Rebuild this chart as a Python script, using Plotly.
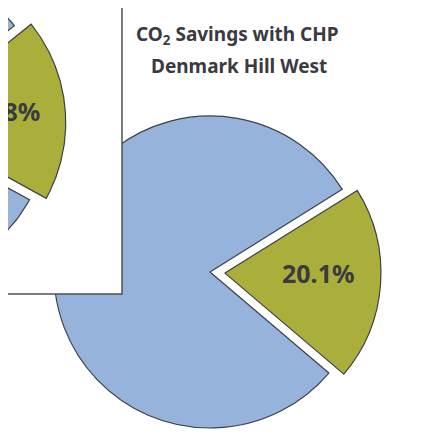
import numpy as np
import plotly.graph_objects as go

# ---------------- data ----------------
main_labels = ["CO₂ saved with CHP", "Remaining CO₂"]
main_values = [20.1, 79.9]

# second chart, only partly visible in the overlapping window (top-left)
inner_labels = ["CO₂ saved with CHP", "Remaining CO₂"]
inner_values = [18.8, 81.2]

title_line1 = "CO<sub>2</sub> Savings with CHP"
title_line2 = "Denmark Hill West"

# ---------------- style ----------------
WIN_W, WIN_H = 422, 443      # browser window
OFF = 8                      # default page margin of the html body
FW, FH = WIN_W - OFF, WIN_H - OFF
BLUE = "#95B3DB"
GREEN = "#A9AF3A"
EDGE = "#3F3F46"
TEXT = "#3A3A40"
PAGE = "#F7F7D8"
FONT = "Noto Sans"


def px(x):   # window pixel -> paper x
    return (x - OFF) / FW


def py(y):   # window pixel -> paper y
    return 1 - (y - OFF) / FH


fig = go.Figure()

# ---------------- inner (partial) pie, centred off-canvas ----------------
in_cx, in_cy, in_r, in_pull, in_rot = -108, 124, 157, 0.107, 51.2
tot = sum(inner_values)
start = in_rot
inner_colors = [GREEN, BLUE]
inner_pulls = [in_pull, 0.0]
for lab, v, col, p in zip(inner_labels, inner_values, inner_colors, inner_pulls):
    span = 360.0 * v / tot
    th = np.radians(np.linspace(start, start + span, 200))
    mid = np.radians(start + span / 2)
    ox = in_cx + p * in_r * np.sin(mid)
    oy = in_cy - p * in_r * np.cos(mid)
    xs = np.concatenate([[ox], ox + in_r * np.sin(th), [ox]])
    ys = np.concatenate([[oy], oy - in_r * np.cos(th), [oy]])
    fig.add_trace(go.Scatter(x=xs, y=ys, mode="lines", fill="toself", fillcolor=col,
                             line=dict(color=EDGE, width=1.2), hoverinfo="skip",
                             showlegend=False, name=lab))
    if p > 0:
        fig.add_trace(go.Scatter(
            x=[ox + 0.61 * in_r * np.sin(mid)], y=[oy - 0.61 * in_r * np.cos(mid)],
            mode="text", text=[f"{100 * v / tot:.1f}%"], textposition="middle center",
            textfont=dict(family=FONT, size=25, color=TEXT, weight="bold"),
            hoverinfo="skip", showlegend=False))
    start += span

# ---------------- main pie ----------------
main_cx, main_cy, main_r, main_pull = 210, 272, 156, 0.096
half = main_r * (1 + main_pull)
cxf, cyf = main_cx - OFF, main_cy - OFF
fig.add_trace(go.Pie(
    labels=main_labels, values=main_values, sort=False,
    direction="clockwise", rotation=58, pull=[main_pull, 0],
    marker=dict(colors=[GREEN, BLUE], line=dict(color=EDGE, width=1.2)),
    textinfo="none",
    domain=dict(x=[(cxf - half - 20) / FW, (cxf + half + 20) / FW],
                y=[max(0, (FH - cyf - half) / FH), (FH - cyf + half) / FH]),
    showlegend=False, hoverinfo="label+percent"))

main_pct = 100 * main_values[0] / sum(main_values)

# ---------------- frame / overlapping window ----------------
shapes = [
    dict(type="rect", x0=122, x1=WIN_W + 2, y0=-2, y1=7, fillcolor=PAGE, line_width=0, layer="below"),
    dict(type="rect", x0=-2, x1=7, y0=294, y1=WIN_H + 2, fillcolor=PAGE, line_width=0, layer="below"),
    dict(type="line", x0=122, x1=WIN_W + 2, y0=7, y1=7, line=dict(color="#4A4A4A", width=1.3), layer="below"),
    dict(type="line", x0=7, x1=7, y0=294, y1=WIN_H + 2, line=dict(color="#4A4A4A", width=1.3), layer="below"),
    # white window covering the main pie (notched where only the partial pie lies)
    dict(type="path", path="M 76,-2 L 122,-2 L 122,294 L -2,294 L -2,262 L 50,262 L 50,212 L 76,180 Z",
         fillcolor="white", line_width=0, layer="above"),
    dict(type="path", path="M 122,-2 L 122,294 L -2,294",
         line=dict(color="#505050", width=1.5), layer="above"),
]

fig.update_layout(
    width=FW, height=FH, autosize=False,
    margin=dict(l=0, r=0, t=0, b=0),
    paper_bgcolor="white", plot_bgcolor="rgba(0,0,0,0)",
    xaxis=dict(range=[OFF, WIN_W], visible=False, fixedrange=True),
    yaxis=dict(range=[WIN_H, OFF], visible=False, fixedrange=True),
    shapes=shapes,
    annotations=[
        dict(text=title_line1, x=px(237), y=py(35), xref="paper", yref="paper",
             showarrow=False, xanchor="center", yanchor="middle",
             font=dict(family=FONT, size=19, color=TEXT, weight="bold")),
        dict(text=title_line2, x=px(239), y=py(66), xref="paper", yref="paper",
             showarrow=False, xanchor="center", yanchor="middle",
             font=dict(family=FONT, size=19, color=TEXT, weight="bold")),
        dict(text=f"{main_pct:.1f}%", x=px(318), y=py(273), xref="paper", yref="paper",
             showarrow=False, xanchor="center", yanchor="middle",
             font=dict(family=FONT, size=25, color=TEXT, weight="bold")),
    ],
)

fig.write_html("out.html")
